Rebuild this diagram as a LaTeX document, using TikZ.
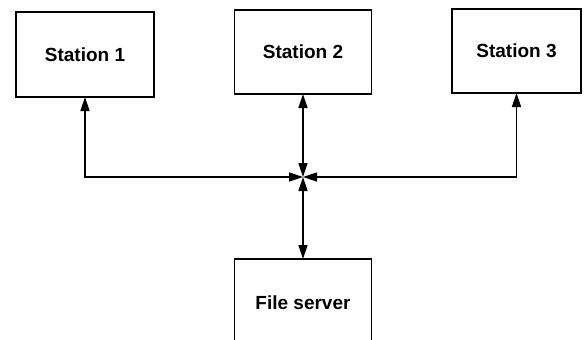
\documentclass[tikz,border=0pt]{standalone}
\usepackage{fontspec}
\setmainfont{Liberation Sans}
\usetikzlibrary{arrows.meta}
\tikzset{
  stn/.style = {
    draw, line width=1.8pt, rectangle,
    inner sep=0pt, outer sep=0pt,
    font=\fontsize{19}{22}\selectfont\bfseries
  },
  dbl/.style = {{Triangle[length=14pt,width=9pt]}-{Triangle[length=14pt,width=9pt]},
                line width=1.5pt}
}

\begin{document}
\begin{tikzpicture}[x=1pt, y=-1pt]
  \useasboundingbox (0,0) rectangle (584,340);

  %% Stations
  \node[stn, minimum width=138pt, minimum height=85pt] (s1) at ( 85, 54.5) {Station 1};
  \node[stn, minimum width=137pt, minimum height=84pt] (s2) at (303, 52)   {Station 2};
  \node[stn, minimum width=129pt, minimum height=84pt] (s3) at (516.5, 51) {Station 3};

  %% File server (bottom edge runs off the page)
  \node[stn, minimum width=137pt, minimum height=88pt] (fs) at (303, 303)  {File server};

  %% Junction
  \coordinate (hub) at (303, 177);

  %% Links
  \draw[dbl] (hub) -| (s1);
  \draw[dbl] (hub) -| (s3);
  \draw[dbl] (s2) -- (hub);
  \draw[dbl] (hub) -- (fs);

\end{tikzpicture}
\end{document}
